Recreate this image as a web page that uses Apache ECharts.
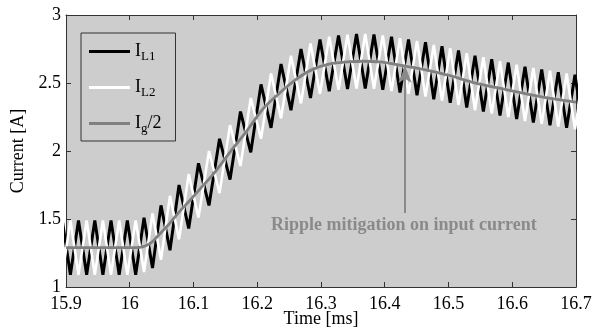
<!DOCTYPE html>
<html><head><meta charset="utf-8">
<script src="https://cdn.jsdelivr.net/npm/echarts@6/dist/echarts.min.js"></script>
<style>html,body{margin:0;padding:0;background:#fff}#c{width:598px;height:331px}</style>
</head><body><div id="c"></div>
<script>
// ---- data ----
const xTicks = [15.9, 16.0, 16.1, 16.2, 16.3, 16.4, 16.5, 16.6, 16.7];
const yTicks = [1, 1.5, 2, 2.5, 3];
const seriesNames = ['IL1', 'IL2', 'Ig/2'];

// ripple vertex times [ms] (shared by both inductor currents, which are interleaved)
const rippleTimes = [15.8942, 15.9069, 15.9196, 15.9324, 15.9452, 15.9579, 15.9706, 15.9834, 15.9962, 16.0093,
  16.0224, 16.0357, 16.0490, 16.0631, 16.0773, 16.0925, 16.1078, 16.1243, 16.1408, 16.1573,
  16.1737, 16.1898, 16.2059, 16.2216, 16.2373, 16.2529, 16.2686, 16.2835, 16.2984, 16.3129,
  16.3275, 16.3416, 16.3557, 16.3694, 16.3831, 16.3969, 16.4106, 16.4239, 16.4373, 16.4506,
  16.4639, 16.4769, 16.4898, 16.5027, 16.5157, 16.5286, 16.5416, 16.5547, 16.5678, 16.5808,
  16.5938, 16.6069, 16.6200, 16.6331, 16.6462, 16.6592, 16.6722, 16.6853, 16.6984, 16.7115];
const il1 = [1.49, 1.09, 1.49, 1.09, 1.49, 1.09, 1.49, 1.09, 1.49, 1.09,
  1.51, 1.14, 1.60, 1.27, 1.75, 1.43, 1.91, 1.60, 2.09, 1.79,
  2.29, 1.99, 2.49, 2.17, 2.64, 2.30, 2.75, 2.39, 2.82, 2.44,
  2.85, 2.455, 2.86, 2.46, 2.857, 2.45, 2.84, 2.43, 2.82, 2.41,
  2.80, 2.38, 2.77, 2.355, 2.74, 2.32, 2.70, 2.29, 2.675, 2.26,
  2.65, 2.235, 2.62, 2.21, 2.60, 2.19, 2.58, 2.17, 2.56, 2.15];
const il2 = [1.09, 1.49, 1.09, 1.49, 1.09, 1.49, 1.09, 1.49, 1.09, 1.49,
  1.11, 1.54, 1.20, 1.67, 1.35, 1.83, 1.51, 2.00, 1.69, 2.19,
  1.89, 2.39, 2.09, 2.57, 2.24, 2.70, 2.35, 2.79, 2.42, 2.84,
  2.45, 2.855, 2.46, 2.86, 2.457, 2.85, 2.44, 2.83, 2.42, 2.81,
  2.40, 2.78, 2.37, 2.755, 2.34, 2.72, 2.30, 2.69, 2.275, 2.66,
  2.25, 2.635, 2.22, 2.61, 2.20, 2.59, 2.18, 2.57, 2.16, 2.55];

// half input current
const igTimes = [15.900, 15.950, 15.990, 16.011, 16.032, 16.047, 16.063, 16.079, 16.095, 16.110,
  16.131, 16.157, 16.184, 16.209, 16.236, 16.262, 16.287, 16.314, 16.341, 16.366,
  16.393, 16.419, 16.444, 16.471, 16.502, 16.538, 16.592, 16.644, 16.700];
const igHalf = [1.29, 1.29, 1.29, 1.29, 1.32, 1.39, 1.47, 1.56, 1.64, 1.72,
  1.83, 1.99, 2.15, 2.31, 2.43, 2.53, 2.60, 2.64, 2.655, 2.66,
  2.655, 2.635, 2.615, 2.59, 2.555, 2.505, 2.45, 2.40, 2.36];

// annotation
const noteText = 'Ripple mitigation on input current';
const arrowX = 16.432, arrowFrom = 1.545, arrowTo = 2.625;
const notePos = [16.43, 1.456];

// ---- chart ----
const FONT = 'Liberation Serif';
const zip = (a, b) => a.map((t, i) => [t, b[i]]);
const fmt = v => String(parseFloat(v.toFixed(1)));
const axisCol = '#333';

const chart = echarts.init(document.getElementById('c'), null, {renderer: 'canvas'});
const baseX = {type: 'value', min: xTicks[0], max: xTicks[xTicks.length - 1], interval: 0.1,
  axisLine: {show: true, onZero: false, lineStyle: {color: axisCol, width: 1}},
  axisTick: {show: true, inside: true, length: 5, lineStyle: {color: axisCol}},
  splitLine: {show: false}};
const baseY = {type: 'value', min: yTicks[0], max: yTicks[yTicks.length - 1], interval: 0.5,
  axisLine: {show: true, onZero: false, lineStyle: {color: axisCol, width: 1}},
  axisTick: {show: true, inside: true, length: 5, lineStyle: {color: axisCol}},
  splitLine: {show: false}};

const legendLabels = {
  'IL1': '{a|I}{b|L1}',
  'IL2': '{a|I}{b|L2}',
  'Ig/2': '{a|I}{b|g}{a|/2}'
};

chart.setOption({
  animation: false,
  backgroundColor: '#ffffff',
  grid: {left: 66, right: 22, top: 15, bottom: 44, show: true, backgroundColor: '#cdcdcd', borderWidth: 0,
    containLabel: false, outerBoundsMode: 'none'},
  xAxis: [
    Object.assign({}, baseX, {position: 'bottom',
      axisLabel: {show: true, formatter: fmt, fontSize: 18, fontFamily: FONT, color: '#000', margin: 8,
        showMinLabel: true, showMaxLabel: true},
      name: 'Time [ms]', nameLocation: 'middle', nameGap: 23, nameMoveOverlap: false,
      nameTextStyle: {fontSize: 18, fontFamily: FONT, color: '#000'}}),
    Object.assign({}, baseX, {position: 'top', axisLabel: {show: false}})
  ],
  yAxis: [
    Object.assign({}, baseY, {position: 'left',
      axisLabel: {show: true, formatter: fmt, fontSize: 18, fontFamily: FONT, color: '#000', margin: 5,
        showMinLabel: true, showMaxLabel: true},
      name: 'Current [A]', nameLocation: 'middle', nameGap: 39, nameMoveOverlap: false,
      nameTextStyle: {fontSize: 18, fontFamily: FONT, color: '#000'}}),
    Object.assign({}, baseY, {position: 'right', axisLabel: {show: false}})
  ],
  legend: {
    left: 81, top: 33, orient: 'vertical', padding: [7, 14, 6, 8], itemGap: 13,
    itemWidth: 41, itemHeight: 3, icon: 'rect',
    borderColor: axisCol, borderWidth: 1, backgroundColor: 'transparent',
    data: seriesNames,
    formatter: n => legendLabels[n],
    textStyle: {fontFamily: FONT, color: '#000',
      rich: {
        a: {fontSize: 18, lineHeight: 22, fontFamily: FONT, color: '#000'},
        b: {fontSize: 13, lineHeight: 14, padding: [10, 0, 0, 0], fontFamily: FONT, color: '#000'}
      }}
  },
  series: [
    {name: seriesNames[0], type: 'line', data: zip(rippleTimes, il1), showSymbol: false, symbol: 'none',
      lineStyle: {color: '#000', width: 3}, itemStyle: {color: '#000'}, clip: true},
    {name: seriesNames[1], type: 'line', data: zip(rippleTimes, il2), showSymbol: false, symbol: 'none',
      lineStyle: {color: '#fff', width: 2.6}, itemStyle: {color: '#fff'}, clip: true},
    {name: seriesNames[2], type: 'line', data: zip(igTimes, igHalf), showSymbol: false, symbol: 'none',
      smooth: 0.35, lineStyle: {color: '#808080', width: 2.8}, itemStyle: {color: '#808080'}, clip: true,
      markLine: {silent: true, symbol: ['none', 'arrow'], symbolSize: [10, 17], animation: false,
        lineStyle: {color: '#8a8a8a', width: 2, type: 'solid'}, label: {show: false},
        data: [[{coord: [arrowX, arrowFrom]}, {coord: [arrowX, arrowTo]}]]}}
  ]
});

const p = chart.convertToPixel({xAxisIndex: 0, yAxisIndex: 0}, notePos);
chart.setOption({graphic: [{type: 'text', x: p[0], y: p[1], silent: true,
  style: {text: noteText, fontSize: 18, fontWeight: 'bold', fontFamily: FONT, fill: '#8a8a8a',
    align: 'center', verticalAlign: 'middle'}}]});
</script></body></html>
